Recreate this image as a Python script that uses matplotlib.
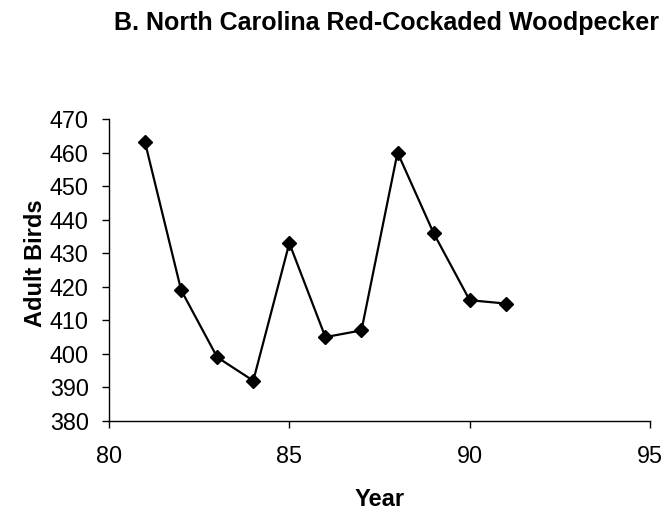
import matplotlib
matplotlib.use("Agg")
import matplotlib.pyplot as plt

years = [81, 82, 83, 84, 85, 86, 87, 88, 89, 90, 91]
adult_birds = [463, 419, 399, 392, 433, 405, 407, 460, 436, 416, 415]
x_ticks = [80, 85, 90, 95]
y_ticks = [380, 390, 400, 410, 420, 430, 440, 450, 460, 470]
title = "B. North Carolina Red-Cockaded Woodpecker"

plt.rcParams['font.family'] = ['Liberation Sans', 'DejaVu Sans']

W, H = 671, 519
fig = plt.figure(figsize=(W / 100, H / 100), dpi=100)
left, right, top, bottom = 109, 650, 119, 421
ax = fig.add_axes([left / W, 1 - bottom / H, (right - left) / W, (bottom - top) / H])

ax.plot(years, adult_birds, color='black', linewidth=1.6, marker='D', markersize=7.5,
        solid_joinstyle='round')

ax.set_xlim(80, 95)
ax.set_ylim(380, 470)
ax.set_xticks(x_ticks)
ax.set_yticks(y_ticks)
ax.tick_params(axis='both', direction='out', length=5, width=1, labelsize=16.8,
               colors='black')
ax.tick_params(axis='x', pad=12)
ax.tick_params(axis='y', pad=9.5)
for s in ['top', 'right']:
    ax.spines[s].set_visible(False)
for s in ['left', 'bottom']:
    ax.spines[s].set_linewidth(1)

fig.text(380 / W, 1 - 499 / H, 'Year', fontsize=17, fontweight='bold',
         ha='center', va='center')
fig.text(36 / W, 1 - 263 / H, 'Adult Birds', fontsize=17, fontweight='bold',
         ha='center', va='center', rotation=90)
fig.text(387 / W, 1 - 30 / H, title, fontsize=18, fontweight='bold',
         ha='center', va='baseline')

fig.savefig('out.png', dpi=100)
